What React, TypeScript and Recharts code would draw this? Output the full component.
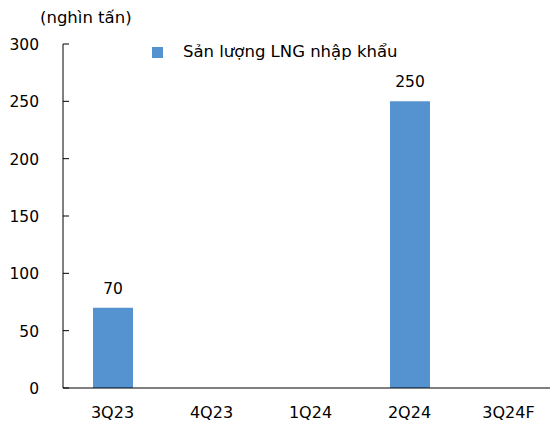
import { BarChart, Bar, XAxis, YAxis, LabelList } from "recharts";

const quarters = ["3Q23", "4Q23", "1Q24", "2Q24", "3Q24F"];
const lngImports = [70, null, null, 250, null];
const yTicks = [0, 50, 100, 150, 200, 250, 300];

const data = quarters.map((q, i) => ({ quarter: q, lng: lngImports[i] }));

const FONT = "'DejaVu Sans', sans-serif";
const BLUE = "#5592D0";

// y ticks point inward, labels sit left of the axis
const YTick = (props: any) => {
  const { x, y, payload } = props;
  return (
    <g>
      <line x1={x} y1={y} x2={x + 6} y2={y} stroke="#000" strokeWidth={1} />
      <text x={x - 24} y={y} dy={6} textAnchor="end" fontSize={15.5} fontFamily={FONT} fill="#000">
        {payload.value}
      </text>
    </g>
  );
};

export default function App() {
  return (
    <div style={{ position: "relative", width: 550, height: 415, fontFamily: FONT }}>
      <div style={{ position: "absolute", left: 32, top: 0, fontSize: 16.5, color: "#000", lineHeight: "19px" }}>
        (nghìn tấn)
      </div>
      <div style={{ position: "absolute", left: 144, top: 34, height: 20, fontSize: 16.5, color: "#000", display: "flex", alignItems: "center", lineHeight: "20px" }}>
        <span style={{ display: "inline-block", width: 11, height: 11, background: BLUE, marginRight: 20 }} />
        Sản lượng LNG nhập khẩu
      </div>
      <BarChart width={550} height={415} data={data} margin={{ top: 36, right: 0, bottom: 5, left: 0 }}>
        <XAxis
          dataKey="quarter"
          height={30}
          tickLine={false}
          axisLine={{ stroke: "#000" }}
          tick={{ fontSize: 16, fontFamily: FONT, fill: "#000" }}
          tickMargin={13}
        />
        <YAxis
          domain={[0, 300]}
          ticks={yTicks}
          width={55}
          tickLine={false}
          tickSize={0}
          tickMargin={0}
          axisLine={{ stroke: "#000" }}
          tick={<YTick />}
        />
        <Bar dataKey="lng" fill={BLUE} barSize={40} isAnimationActive={false}>
          <LabelList dataKey="lng" position="top" offset={14} style={{ fontSize: 15.5, fontFamily: FONT, fill: "#000" }} />
        </Bar>
      </BarChart>
    </div>
  );
}
